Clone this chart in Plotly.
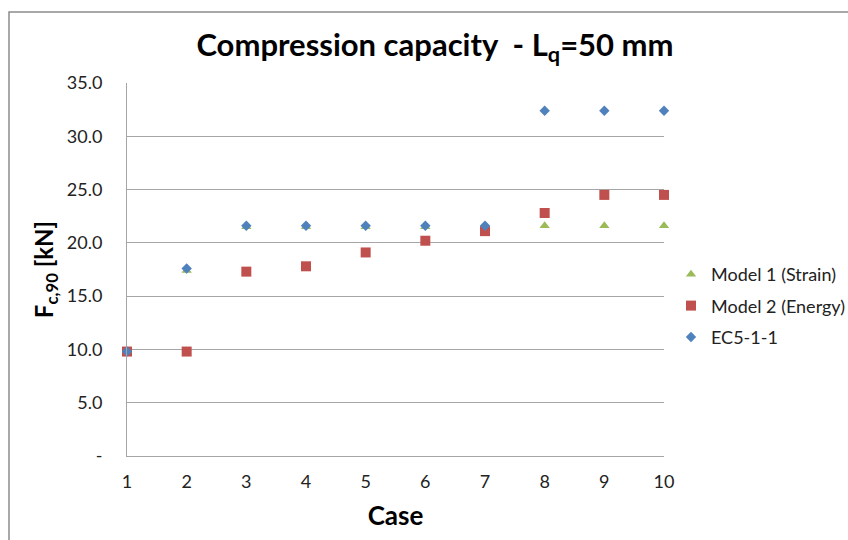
import plotly.graph_objects as go

# Case numbers on the x axis
cases = [1, 2, 3, 4, 5, 6, 7, 8, 9, 10]

# Compression capacity F_c,90 [kN] per model
model1_strain = [9.8, 17.4, 21.5, 21.5, 21.5, 21.5, 21.5, 21.6, 21.6, 21.6]
model2_energy = [9.8, 9.8, 17.3, 17.8, 19.1, 20.2, 21.1, 22.8, 24.5, 24.5]
ec5_1_1 = [9.8, 17.6, 21.6, 21.6, 21.6, 21.6, 21.6, 32.4, 32.4, 32.4]

# Y tick labels (accounting style, zero shown as a dash)
y_tickvals = [0, 5, 10, 15, 20, 25, 30, 35]
y_ticktext = ["-", "5.0", "10.0", "15.0", "20.0", "25.0", "30.0", "35.0"]

FONT = "Lato, 'Open Sans', sans-serif"

fig = go.Figure()
fig.add_trace(go.Scatter(
    x=cases, y=model1_strain, mode="markers", name="Model 1 (Strain)",
    legendgroup="g1", cliponaxis=False,
    marker=dict(symbol="triangle-up", size=9, color="#9BBB59"),
))
fig.add_trace(go.Scatter(
    x=cases, y=model2_energy, mode="markers", name="Model 2 (Energy)",
    legendgroup="g2", cliponaxis=False,
    marker=dict(symbol="square", size=10, color="#C0504D"),
))
fig.add_trace(go.Scatter(
    x=cases, y=ec5_1_1, mode="markers", name="EC5-1-1",
    legendgroup="g3", cliponaxis=False,
    marker=dict(symbol="diamond", size=8, color="#4F81BD"),
))

L, R, T, B = 127, 184, 83, 84
W, H = 848, 540
pw, ph = W - L - R, H - T - B

fig.update_layout(
    width=W, height=H,
    margin=dict(l=L, r=R, t=T, b=B, autoexpand=False),
    paper_bgcolor="white", plot_bgcolor="white",
    font=dict(family=FONT, size=18, color="#222222"),
    title=dict(
        text="<b>Compression capacity  - L<sub>q</sub>=50 mm</b>",
        font=dict(family=FONT, size=31, color="#000000"),
        x=(435 - L) / pw, xref="paper", xanchor="center",
        y=1 - 45 / H, yref="container", yanchor="middle",
    ),
    xaxis=dict(
        range=[1, 10], tickvals=cases, ticktext=[str(c) for c in cases],
        showgrid=False, zeroline=False,
        showline=True, linecolor="#A6A6A6", linewidth=1,
        ticks="", ticklabelstandoff=9,
        title=dict(text="<b>Case</b>", font=dict(family=FONT, size=26, color="#000000"),
                   standoff=16),
    ),
    yaxis=dict(
        range=[0, 35], tickvals=y_tickvals, ticktext=y_ticktext,
        showgrid=True, gridcolor="#A6A6A6", gridwidth=1, zeroline=False,
        showline=True, linecolor="#A6A6A6", linewidth=1,
        ticks="", ticklabelstandoff=20,
        title=dict(text="<b>F<sub>c,90</sub> [kN]</b>",
                   font=dict(family=FONT, size=24, color="#000000"),
                   standoff=6),
    ),
    legend=dict(
        x=(671 - L) / pw, xanchor="left",
        y=1 - (256 - T) / ph, yanchor="top",
        font=dict(family=FONT, size=18, color="#222222"),
        tracegroupgap=5, bgcolor="rgba(0,0,0,0)",
    ),
    showlegend=True,
    shapes=[dict(
        type="rect", xref="paper", yref="paper",
        x0=(9 - L) / pw, x1=(W + 20 - L) / pw,
        y0=-(H + 20 - T - ph) / ph, y1=1 + (T - 12) / ph,
        line=dict(color="#8C8C8C", width=1.5), fillcolor="rgba(0,0,0,0)",
        layer="below",
    )],
)

fig.write_html("out.html")
